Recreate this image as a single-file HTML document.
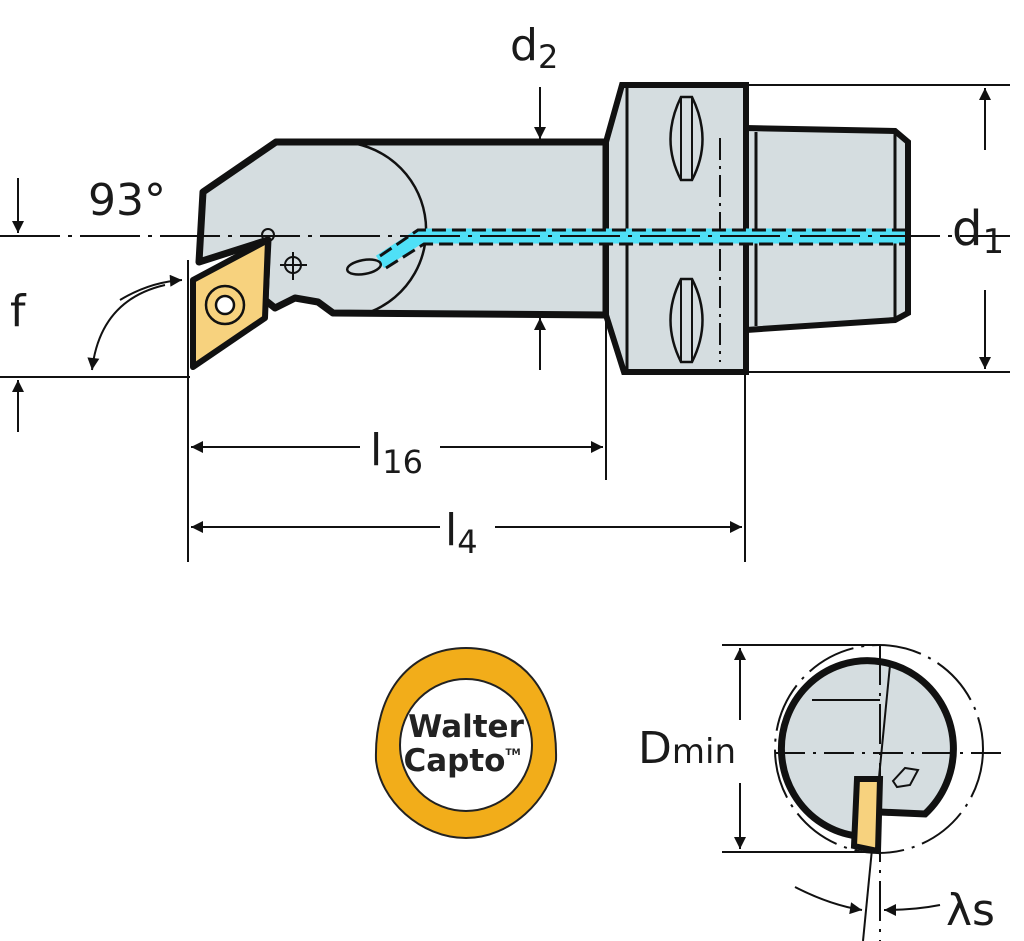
<!DOCTYPE html>
<html><head><meta charset="utf-8"><style>body{margin:0;background:#fff}svg{display:block}text{font-family:"DejaVu Sans","Liberation Sans",sans-serif;fill:#1a1a1a}</style></head><body>
<svg width="1024" height="941" viewBox="0 0 1024 941" xmlns="http://www.w3.org/2000/svg">
<defs><marker id="b" viewBox="0 0 10 10" refX="10" refY="5" markerWidth="20" markerHeight="12" markerUnits="userSpaceOnUse" orient="auto"><path d="M0,0 L10,5 L0,10Z" fill="#111"/></marker></defs>
<g stroke="#111" fill="none" stroke-width="2">
<path d="M276,142 L606,142 L606,315 L333,313 L318,302 L295,298 L275,308 L265,300 L268,240 L199,262 L203,192 Z" fill="#d5dde0" stroke-width="7" stroke-linejoin="round"/>
<path d="M340,142 A88,88 0 0 1 370,312" stroke-width="2.5"/>
<path d="M606,142 L622,85 L746,85 L746,372 L624,372 L606,315 Z" fill="#d5dde0" stroke-width="6"/>
<line x1="627" y1="88" x2="627" y2="369" stroke-width="3"/>
<path d="M746,128 L895,131 L908,142 L908,313 L895,320 L746,330 Z" fill="#d5dde0" stroke-width="6"/>
<line x1="756" y1="132" x2="756" y2="326" stroke-width="3"/><line x1="895" y1="131" x2="895" y2="320" stroke-width="3"/>
<path d="M681,97 Q660,140 681,180 L692,180 Q713,140 692,97Z" stroke-width="2.5"/><line x1="681" y1="97" x2="681" y2="180"/><line x1="692" y1="97" x2="692" y2="180"/>
<path d="M681,279 Q660,320 681,362 L692,362 Q713,320 692,279Z" stroke-width="2.5"/><line x1="681" y1="279" x2="681" y2="362"/><line x1="692" y1="279" x2="692" y2="362"/>
<line x1="720" y1="138" x2="720" y2="362" stroke-dasharray="22,6,3,6"/>
<path d="M380,262 L420,236 L905,236" stroke="#4fe0f7" stroke-width="15"/>
<path d="M380,256 L418,230 L905,230 M386,268 L424,244 L905,244" stroke-dasharray="14,6" stroke-width="3"/>
<ellipse cx="364" cy="267" rx="17" ry="7" transform="rotate(-10 364 267)" stroke-width="2.5"/>
<circle cx="293" cy="265" r="8"/><line x1="280" y1="265" x2="307" y2="265"/><line x1="293" y1="252" x2="293" y2="280"/>
<path d="M193,280 L268,240 L265,318 L193,367 Z" fill="#f7d27e" stroke-width="6" stroke-linejoin="round"/>
<circle cx="225" cy="305" r="19" stroke-width="2.5"/><circle cx="225" cy="305" r="9" fill="#fff" stroke-width="2.5"/>
<circle cx="268" cy="235" r="6"/>
<line x1="0" y1="236" x2="1010" y2="236" stroke-dasharray="60,8,4,8"/>
<line x1="0" y1="377" x2="190" y2="377"/>
<line x1="746" y1="85" x2="1010" y2="85"/><line x1="746" y1="372" x2="1010" y2="372"/>
<line x1="188" y1="260" x2="188" y2="562"/><line x1="606" y1="318" x2="606" y2="480"/><line x1="745" y1="372" x2="745" y2="562"/>
<line x1="985" y1="150" x2="985" y2="88" marker-end="url(#b)"/><line x1="985" y1="290" x2="985" y2="369" marker-end="url(#b)"/>
<line x1="360" y1="447" x2="191" y2="447" marker-end="url(#b)"/><line x1="440" y1="447" x2="603" y2="447" marker-end="url(#b)"/>
<line x1="440" y1="527" x2="191" y2="527" marker-end="url(#b)"/><line x1="495" y1="527" x2="742" y2="527" marker-end="url(#b)"/>
<line x1="540" y1="87" x2="540" y2="139" marker-end="url(#b)"/><line x1="540" y1="370" x2="540" y2="318" marker-end="url(#b)"/>
<line x1="18" y1="178" x2="18" y2="233" marker-end="url(#b)"/><line x1="18" y1="432" x2="18" y2="380" marker-end="url(#b)"/>
<path d="M165,285 Q100,300 92,370" marker-end="url(#b)"/><path d="M120,300 Q150,282 182,280" marker-end="url(#b)"/>
</g>
<g font-size="44">
<text x="88" y="215">93°</text>
<text x="10" y="326">f</text>
<text x="510" y="60">d<tspan font-size="32" dy="8">2</tspan></text>
<text x="952" y="245" font-size="48">d<tspan font-size="34" dy="8">1</tspan></text>
<text x="370" y="465">l<tspan font-size="32" dy="8">16</tspan></text>
<text x="445" y="545">l<tspan font-size="32" dy="8">4</tspan></text>
<text x="638" y="763">D<tspan font-size="34">min</tspan></text>
<text x="946" y="925">λs</text>
</g>
<path d="M466,648 C520,648 558,690 556,760 C550,800 510,838 466,838 C420,838 380,800 376,760 C374,690 412,648 466,648Z" fill="#f2ad1a" stroke="#222" stroke-width="2"/>
<circle cx="466" cy="745" r="66" fill="#fff" stroke="#222" stroke-width="2"/>
<text x="466" y="737" font-size="31" text-anchor="middle" font-weight="bold" style="fill:#222">Walter</text>
<text x="462" y="771" font-size="31" text-anchor="middle" font-weight="bold" style="fill:#222">Capto<tspan font-size="9" dy="-16">TM</tspan></text>
<g stroke="#111" fill="none" stroke-width="2">
<line x1="722" y1="645" x2="880" y2="645"/><line x1="722" y1="852" x2="880" y2="852"/>
<line x1="740" y1="720" x2="740" y2="648" marker-end="url(#b)"/><line x1="740" y1="783" x2="740" y2="849" marker-end="url(#b)"/>
<circle cx="879" cy="749" r="104" stroke-dasharray="50,8,3,8"/>
<path d="M880,812 L925,814 A86,88 0 1 0 857,836" fill="#d5dde0" stroke-width="7"/>
<line x1="812" y1="700" x2="880" y2="700"/>
<line x1="775" y1="753" x2="1005" y2="753" stroke-dasharray="30,8,3,8"/>
<line x1="880" y1="645" x2="880" y2="941" stroke-dasharray="40,8,3,8"/>
<line x1="890" y1="665" x2="863" y2="941"/>
<path d="M857,779 L880,779 L878,851 L854,846 Z" fill="#f7d27e" stroke-width="6"/>
<path d="M893,781 L905,768 L918,770 L910,785 L897,787Z"/>
<path d="M795,887 Q830,905 862,910" marker-end="url(#b)"/>
<path d="M940,905 Q915,910 884,910" marker-end="url(#b)"/>
</g>
</svg>
</body></html>
